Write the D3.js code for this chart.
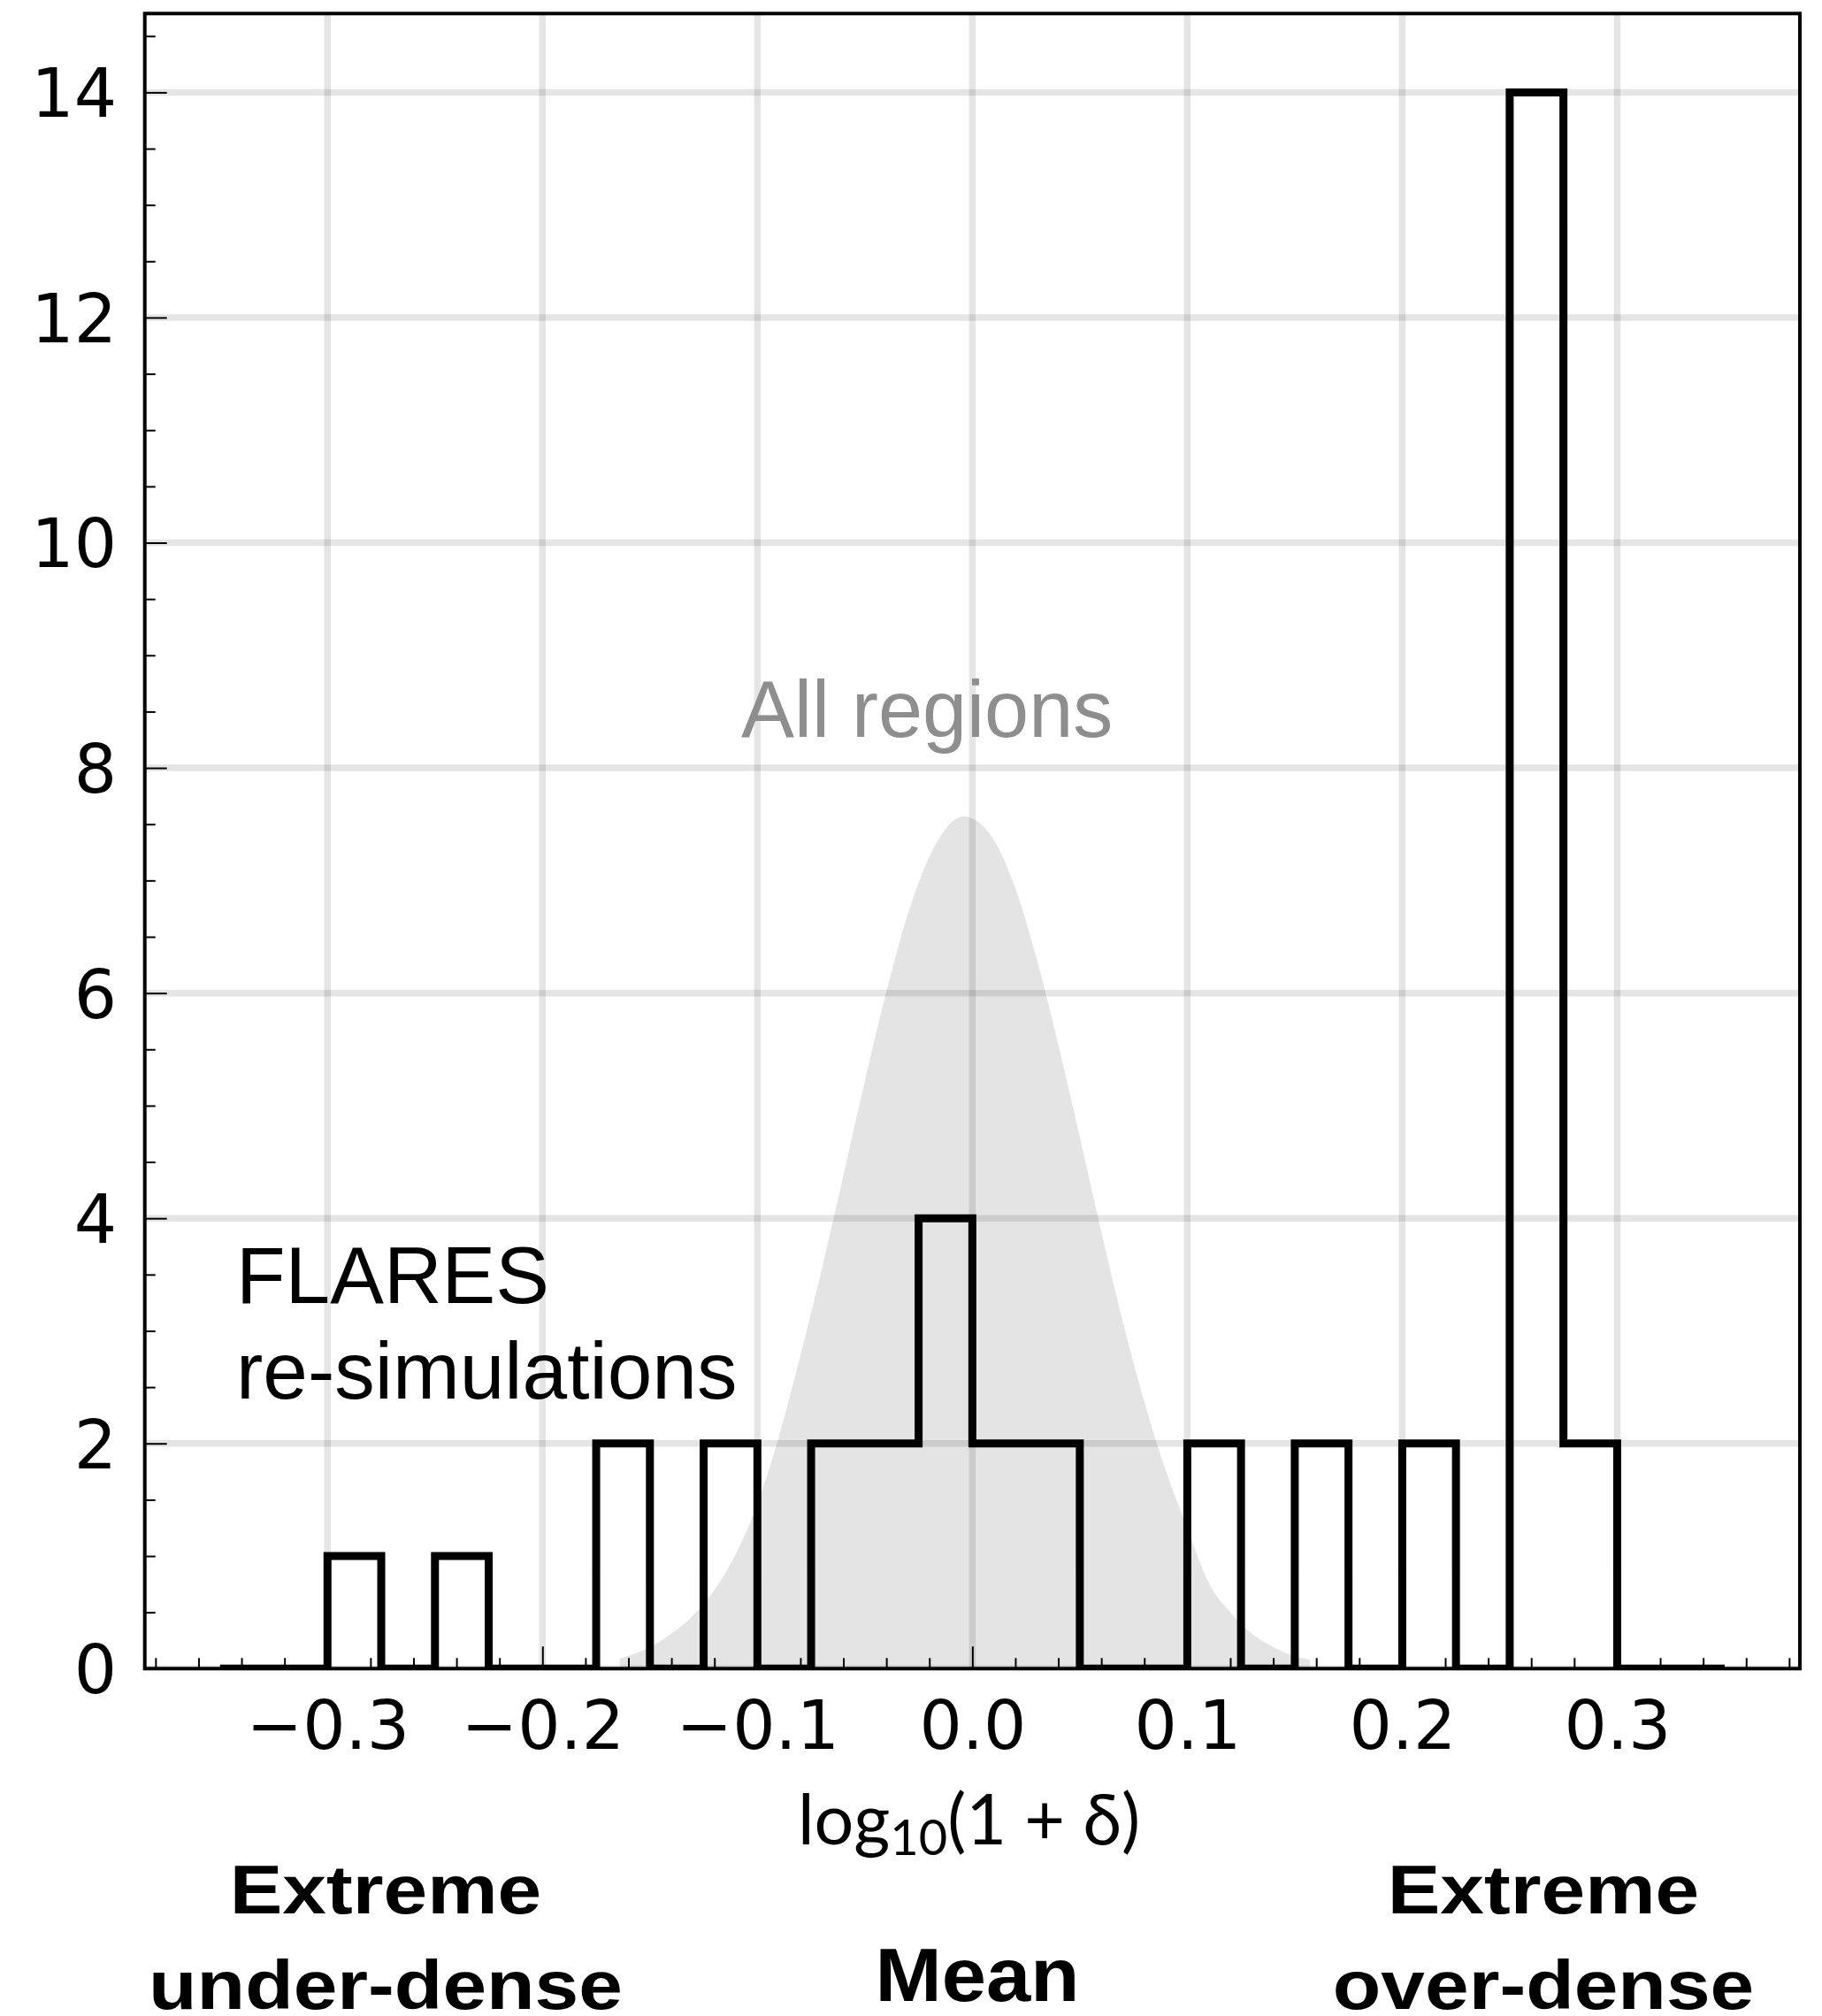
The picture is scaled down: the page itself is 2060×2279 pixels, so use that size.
<!DOCTYPE html>
<html>
<head>
<meta charset="utf-8">
<script src="https://cdn.jsdelivr.net/npm/d3@7"></script>
<style>
  html, body { margin: 0; padding: 0; background: #fff; }
  svg { display: block; }
</style>
</head>
<body>
<svg id="chart" width="2060" height="2279"></svg>
<script>
// Histogram bin edges for log10(1 + delta) of the FLARES re-simulations (width 0.025)
const binEdges = [-0.35, -0.325, -0.3, -0.275, -0.25, -0.225, -0.2, -0.175, -0.15, -0.125,
                  -0.1, -0.075, -0.05, -0.025, 0.0, 0.025, 0.05, 0.075, 0.1, 0.125,
                  0.15, 0.175, 0.2, 0.225, 0.25, 0.275, 0.3, 0.325, 0.35];
// Number of re-simulated regions in each bin
const regionCounts = [0, 0, 1, 0, 1, 0, 0, 2, 0, 2,
                      0, 2, 2, 4, 2, 2, 0, 0, 2, 0,
                      2, 0, 2, 0, 14, 2, 0, 0];

// Overdensity distribution of all regions (grey band)
const allRegionsX = [-0.164, -0.15, -0.14, -0.13, -0.12, -0.11, -0.10, -0.09, -0.08, -0.07,
                     -0.06, -0.05, -0.04, -0.03, -0.02, -0.01, -0.004, 0.0, 0.01, 0.02,
                     0.03, 0.04, 0.05, 0.06, 0.07, 0.08, 0.09, 0.10, 0.11, 0.12,
                     0.13, 0.14, 0.15, 0.157];
const allRegionsY = [0.09, 0.19, 0.31, 0.47, 0.70, 1.02, 1.46, 2.06, 2.78, 3.55,
                     4.38, 5.22, 6.01, 6.70, 7.21, 7.51, 7.57, 7.55, 7.36, 6.93,
                     6.30, 5.54, 4.72, 3.88, 3.08, 2.37, 1.76, 1.25, 0.76, 0.50,
                     0.31, 0.19, 0.11, 0.08];

// Axis ticks
const xTicks = [-0.3, -0.2, -0.1, 0.0, 0.1, 0.2, 0.3];
const xTickLabels = ["\u22120.3", "\u22120.2", "\u22120.1", "0.0", "0.1", "0.2", "0.3"];
const yTicks = [0, 2, 4, 6, 8, 10, 12, 14];
const yTickLabels = ["0", "2", "4", "6", "8", "10", "12", "14"];

// Plot frame
const frame = { left: 163.7, right: 2035, top: 15.3, bottom: 1886.3 };
const xDomain = [-0.385, 0.385];
const yDomain = [0, 14.7];

const svg = d3.select("#chart");
const x = d3.scaleLinear().domain(xDomain).range([frame.left, frame.right]);
const y = d3.scaleLinear().domain(yDomain).range([frame.bottom, frame.top]);

svg.append("defs").append("clipPath").attr("id", "plot-clip")
  .append("rect")
  .attr("x", frame.left).attr("y", frame.top)
  .attr("width", frame.right - frame.left)
  .attr("height", frame.bottom - frame.top);

const plot = svg.append("g").attr("clip-path", "url(#plot-clip)");

// Grey band: all regions
const allRegions = allRegionsX.map((v, i) => [v, allRegionsY[i]]);
plot.append("path")
  .datum(allRegions)
  .attr("fill", "#e4e4e4")
  .attr("d", d3.area()
    .x(d => x(d[0]))
    .y0(y(0))
    .y1(d => y(d[1]))
    .curve(d3.curveMonotoneX));

// Grid lines at major ticks
plot.append("g").selectAll("line").data(xTicks).join("line")
  .attr("x1", d => x(d)).attr("x2", d => x(d))
  .attr("y1", frame.top).attr("y2", frame.bottom)
  .attr("stroke", "rgba(0,0,0,0.1)").attr("stroke-width", 7.5);
plot.append("g").selectAll("line").data(yTicks).join("line")
  .attr("x1", frame.left).attr("x2", frame.right)
  .attr("y1", d => y(d)).attr("y2", d => y(d))
  .attr("stroke", "rgba(0,0,0,0.1)").attr("stroke-width", 7.5);

// Step histogram outline of the re-simulations
const stepPoints = [[binEdges[0], 0]];
regionCounts.forEach((c, i) => {
  stepPoints.push([binEdges[i], c]);
  stepPoints.push([binEdges[i + 1], c]);
});
stepPoints.push([binEdges[binEdges.length - 1], 0]);
plot.append("path")
  .datum(stepPoints)
  .attr("fill", "none")
  .attr("stroke", "#000")
  .attr("stroke-width", 9)
  .attr("stroke-linejoin", "miter")
  .attr("d", d3.line().x(d => x(d[0])).y(d => y(d[1])));

// Axes with inward ticks
const tickFont = "'DejaVu Sans', sans-serif";
const xMinor = d3.range(-19, 20).filter(i => i % 5 !== 0).map(i => i * 0.02);
const yMinor = d3.range(1, 30).filter(i => i % 4 !== 0).map(i => i * 0.5);

const xAxisMinor = svg.append("g").attr("transform", `translate(0,${frame.bottom})`)
  .call(d3.axisBottom(x).tickValues(xMinor).tickSize(-12).tickFormat(""));
const xAxis = svg.append("g").attr("transform", `translate(0,${frame.bottom})`)
  .call(d3.axisBottom(x).tickValues(xTicks).tickSize(-25)
    .tickFormat((d, i) => xTickLabels[i]));
const yAxisMinor = svg.append("g").attr("transform", `translate(${frame.left},0)`)
  .call(d3.axisLeft(y).tickValues(yMinor).tickSize(-12).tickFormat(""));
const yAxis = svg.append("g").attr("transform", `translate(${frame.left},0)`)
  .call(d3.axisLeft(y).tickValues(yTicks).tickSize(-25)
    .tickFormat((d, i) => yTickLabels[i]));

[xAxisMinor, xAxis, yAxisMinor, yAxis].forEach(a => {
  a.select(".domain").remove();
  a.selectAll(".tick line").attr("stroke", "#000").attr("stroke-width", 2);
  a.selectAll(".tick text")
    .attr("fill", "#000")
    .style("font-family", tickFont)
    .style("font-size", "76px");
});
xAxis.selectAll(".tick text").attr("y", 90.4).attr("dy", 0);
yAxis.selectAll(".tick text").attr("x", -31.7).attr("dy", "0.36em");

// Frame
svg.append("rect")
  .attr("x", frame.left).attr("y", frame.top)
  .attr("width", frame.right - frame.left)
  .attr("height", frame.bottom - frame.top)
  .attr("fill", "none").attr("stroke", "#000").attr("stroke-width", 4);

// Annotations inside the plot
const sans = "'Liberation Sans', Arial, Helvetica, sans-serif";
svg.append("text")
  .attr("x", 838).attr("y", 833)
  .attr("fill", "#8e8e8e")
  .style("font-family", sans).style("font-size", "90px")
  .text("All regions");
svg.append("text")
  .attr("x", 267).attr("y", 1473)
  .attr("fill", "#000")
  .style("font-family", sans).style("font-size", "91px")
  .text("FLARES");
svg.append("text")
  .attr("x", 267).attr("y", 1581)
  .attr("fill", "#000")
  .style("font-family", sans).style("font-size", "91px")
  .text("re-simulations");

// X axis title: log10(1 + delta)
const xTitle = svg.append("text")
  .attr("x", 1095.5).attr("y", 2085)
  .attr("text-anchor", "middle")
  .attr("fill", "#000")
  .style("font-family", "Lato, 'Open Sans', sans-serif")
  .style("font-size", "79px");
xTitle.append("tspan").text("log");
xTitle.append("tspan").attr("dy", 12).style("font-size", "56px").text("10");
xTitle.append("tspan").attr("dy", -12).text("(1 + \u03b4)");

// Density regime labels below the axis
const regimeLabels = [
  { cx: 436, lines: ["Extreme", "under-dense"], baselines: [2163, 2271], size: 77, stretch: 1.16 },
  { cx: 1105, lines: ["Mean"], baselines: [2262], size: 86, stretch: 1.05 },
  { cx: 1745, lines: ["Extreme", "over-dense"], baselines: [2163, 2271], size: 77, stretch: 1.16 }
];
regimeLabels.forEach(r => {
  const g = svg.append("g").attr("transform", `translate(${r.cx},0) scale(${r.stretch},1)`);
  r.lines.forEach((t, i) => {
    g.append("text")
      .attr("x", 0).attr("y", r.baselines[i])
      .attr("text-anchor", "middle")
      .attr("fill", "#000")
      .style("font-family", sans).style("font-weight", "bold")
      .style("font-size", r.size + "px")
      .text(t);
  });
});
</script>
</body>
</html>
